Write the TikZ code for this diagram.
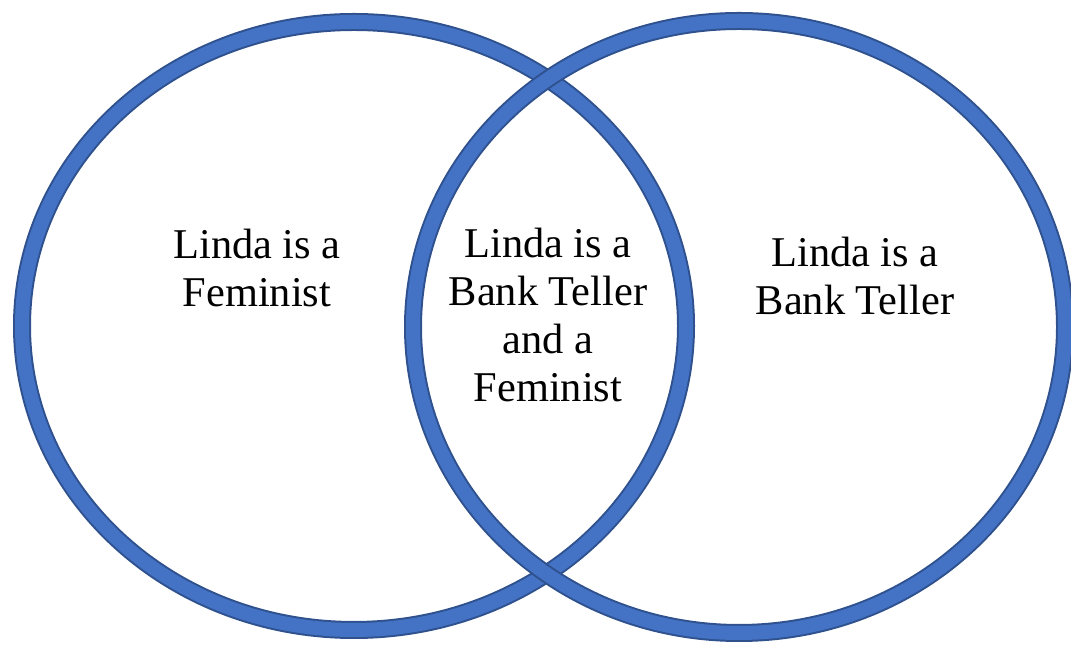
\documentclass[tikz,border=0pt]{standalone}
\usepackage{fontspec}
\setmainfont{Liberation Serif}
\usetikzlibrary{positioning}

\definecolor{ringblue}{HTML}{4472C4}
\definecolor{ringedge}{HTML}{2F528F}

\begin{document}
\begin{tikzpicture}[
        x=0.75pt, y=0.75pt,
        ring/.style={draw=ringedge, line width=1.5pt, double=ringblue, double distance=10.5pt},
        label/.style={align=center, inner sep=0pt, font=\fontsize{31.8pt}{36pt}\selectfont}
    ]

    \useasboundingbox (0,0) rectangle (1071,648);

    % Sets
    \draw[ring] (354,322) ellipse [x radius=332, y radius=304];
    \draw[ring] (739,321) ellipse [x radius=326, y radius=306];

    % Nodes
    \node (feminist)[label] at (257,380) {Linda is a\\ Feminist};
    \node (both)[label] at (548,333) {Linda is a\\ Bank Teller\\ and a\\ Feminist};
    \node (teller)[label] at (855,372) {Linda is a\\ Bank Teller};

\end{tikzpicture}
\end{document}
